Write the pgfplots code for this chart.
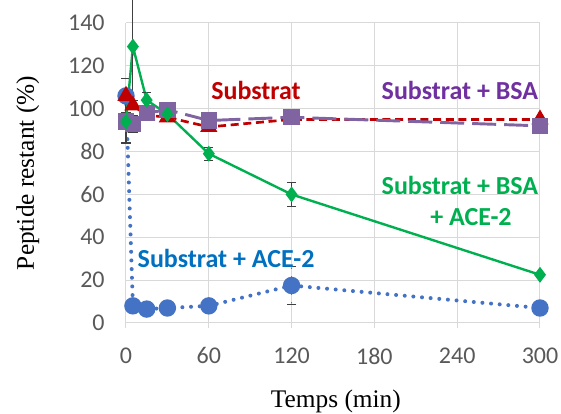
\documentclass[border=0pt]{standalone}
\usepackage{fontspec}
\setmainfont{Liberation Serif}
\newfontfamily\calib{Carlito}
\usepackage{pgfplots}
\pgfplotsset{compat=1.18}
\definecolor{gridc}{RGB}{217,217,217}
\definecolor{tickc}{RGB}{89,89,89}
\definecolor{redc}{RGB}{192,0,0}
\definecolor{purc}{RGB}{128,100,162}
\definecolor{purt}{RGB}{112,48,160}
\definecolor{bluec}{RGB}{68,114,196}
\definecolor{bluet}{RGB}{0,112,192}
\definecolor{greenc}{RGB}{0,176,80}
\definecolor{errc}{RGB}{64,64,64}
\begin{document}
\begin{tikzpicture}
\useasboundingbox (-94.5pt,-68.25pt) rectangle (326.25pt,242.25pt);
\begin{axis}[
  scale only axis, width=310.5pt, height=225pt,
  at={(0,0)}, anchor=south west,
  xmin=0, xmax=300, ymin=0, ymax=140,
  xtick={0,60,...,300}, ytick={0,20,...,140},
  grid=major, grid style={gridc, line width=0.75pt},
  axis line style={gridc, line width=0.75pt},
  axis x line*=bottom, axis y line*=left,
  tick align=outside, major tick length=4pt,
  xtick style={gridc, line width=0.75pt},
  ytick style={draw=none},
  /pgf/number format/assume math mode=true,
  ticklabel style={font=\calib\fontsize{18}{20}\selectfont, text=tickc},
  xticklabel style={yshift=-11pt},
  yticklabel style={xshift=-8.5pt},
  every axis y label/.style={at={(axis description cs:-0.237,0.5)}, rotate=90, anchor=center},
  every axis x label/.style={at={(axis description cs:0.507,-0.263)}, anchor=center},
  ylabel={Peptide restant (\%)}, xlabel={Temps (min)},
  label style={font=\fontsize{19}{22}\selectfont},
  clip=false,
  error bars/error bar style={errc, line width=0.9pt},
  error bars/error mark options={errc, line width=0.9pt, mark size=3.5pt, rotate=90},
]
% Substrat + ACE-2
\addplot[bluec, line width=3pt, dash pattern=on 0pt off 6.5pt, line cap=round,
  mark=*, mark size=5pt, mark options={solid, fill=bluec, draw=bluec},
  error bars/.cd, y dir=both, y explicit]
  table[x=t, y=v, y error=e] {
t v e
0 106 8
5 8 0
15 6.5 0
30 7 0
60 8 0
120 17.5 9
300 7 0
};
% Substrat
\addplot[redc, line width=2pt, dash pattern=on 6pt off 3.5pt,
  mark=triangle*, mark size=5.5pt, mark options={solid, fill=redc, draw=redc},
  error bars/.cd, y dir=both, y explicit]
  table[x=t, y=v, y error=e] {
t v e
0 106 0
5 101.5 0
15 97 0
30 96 0
60 91.5 0
120 95 0
300 95 0
};
% Substrat + BSA
\addplot[purc, line width=2.2pt, dash pattern=on 18pt off 6pt,
  mark=square*, mark size=5pt, mark options={solid, fill=purc, draw=purc},
  error bars/.cd, y dir=both, y explicit]
  table[x=t, y=v, y error=e] {
t v e
0 94 10
5 93 4
15 98 0
30 99.5 0
60 94.5 0
120 96 0
300 92 0
};
% Substrat + BSA + ACE-2
\addplot[greenc, line width=1.8pt,
  mark=diamond*, mark size=4.5pt, mark options={solid, fill=greenc, draw=greenc},
  error bars/.cd, y dir=both, y explicit]
  table[x=t, y=v, y error=e] {
t v e
0 94 0
5 129 25
15 104 3.5
30 97.5 3.5
60 79 3
120 60 5.5
300 22.5 0
};
\begin{scope}[every node/.style={font=\calib\bfseries\fontsize{19.5}{22}\selectfont, anchor=center, inner sep=0pt}]
\node[text=redc] at (axis cs:94.2,108.7) {Substrat};
\node[text=purt] at (axis cs:242,108.7) {Substrat + BSA};
\node[text=greenc] at (axis cs:242,64.4) {Substrat + BSA};
\node[text=greenc] at (axis cs:250,49.5) {+ ACE-2};
\node[text=bluet] at (axis cs:72.5,30.3) {Substrat + ACE-2};
\end{scope}
\end{axis}
\end{tikzpicture}
\end{document}
